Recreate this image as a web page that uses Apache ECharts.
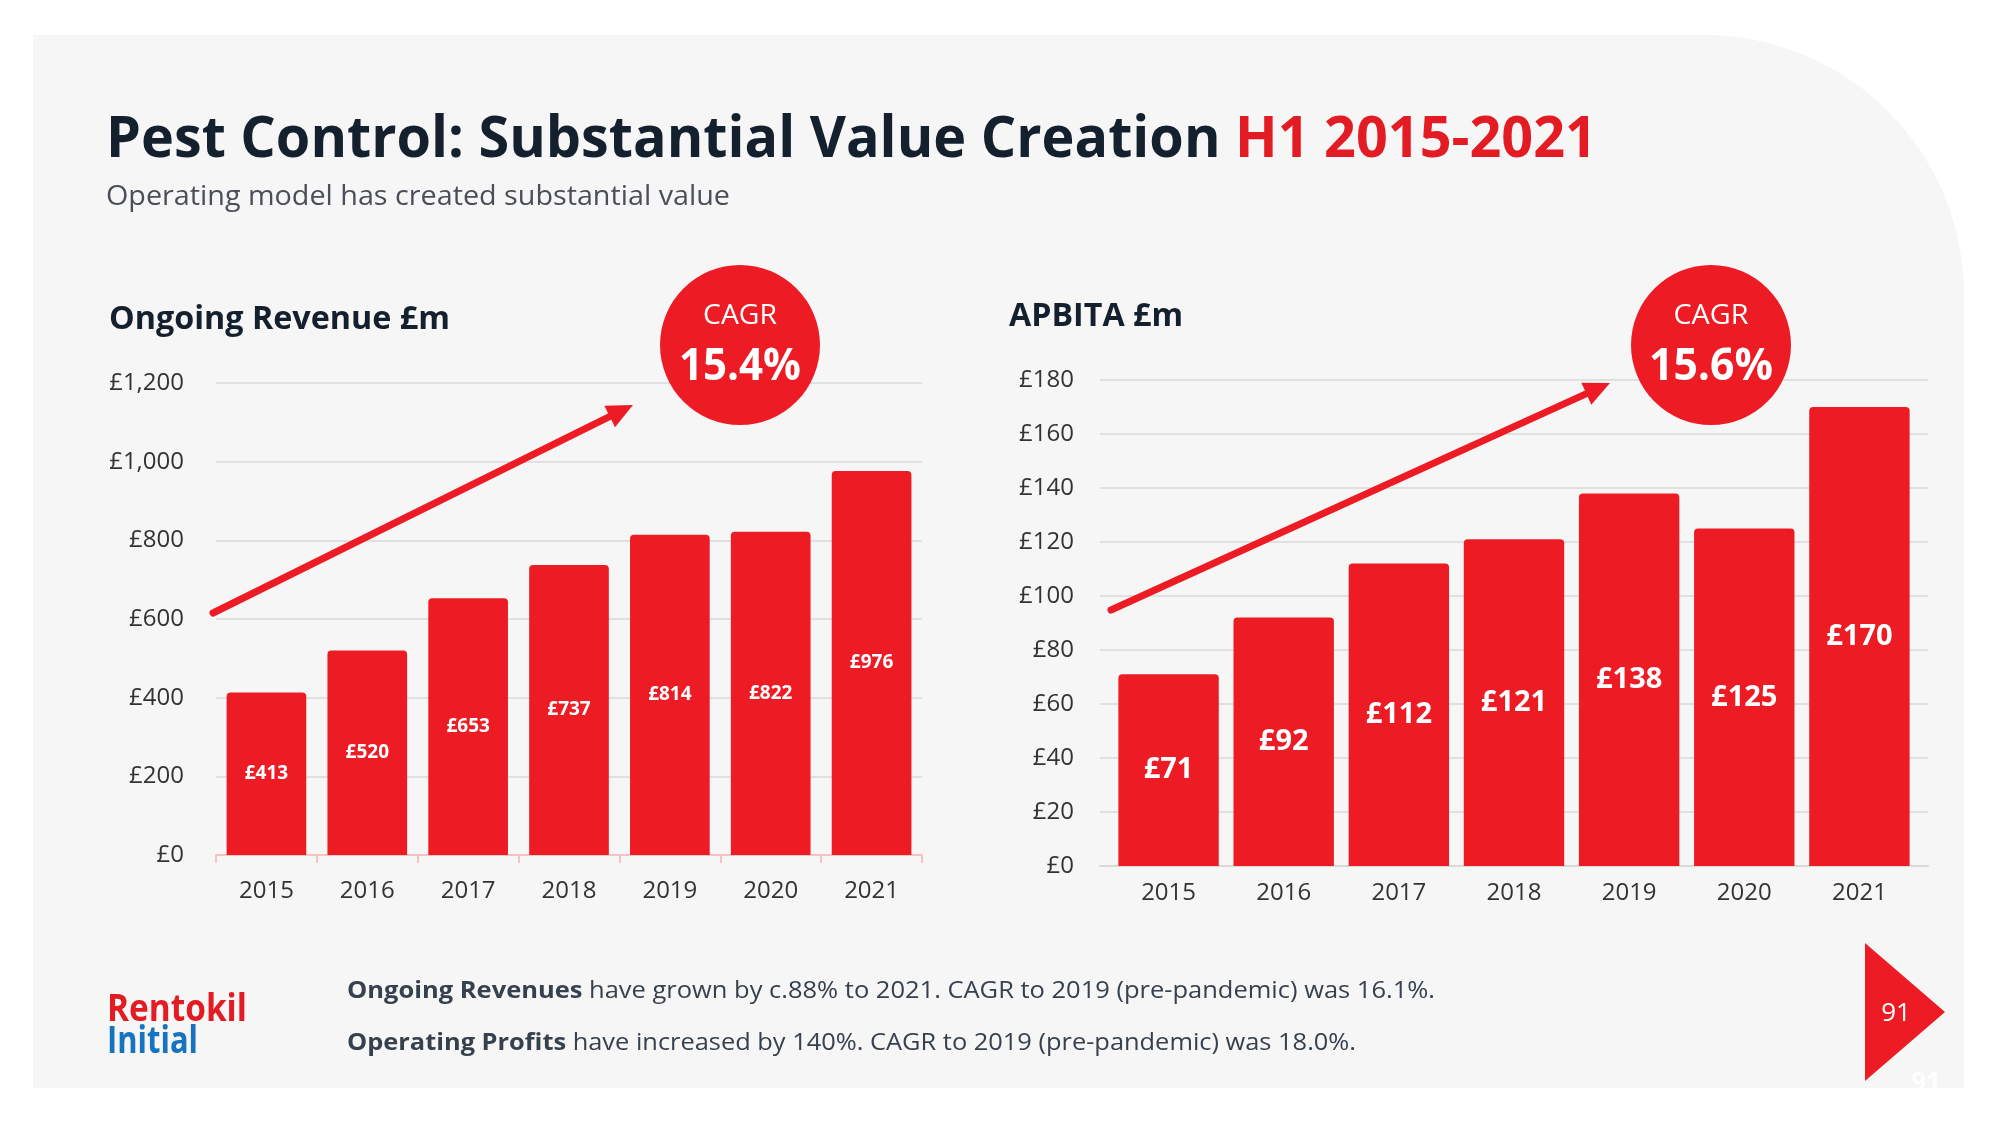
<!DOCTYPE html>
<html><head><meta charset="utf-8">
<script src="https://cdn.jsdelivr.net/npm/echarts@6/dist/echarts.min.js"></script>
<style>html,body{margin:0;padding:0;background:#fff}#c{width:2000px;height:1125px}</style>
</head><body><div id="c"></div>
<script>
// ---- data ----
const categories = ['2015', '2016', '2017', '2018', '2019', '2020', '2021'];
const revenueValues = [413, 520, 653, 737, 814, 822, 976];
const apbitaValues = [71, 92, 112, 121, 138, 125, 170];
const revenueTickLabels = ['£0', '£200', '£400', '£600', '£800', '£1,000', '£1,200'];
const apbitaTickLabels = ['£0', '£20', '£40', '£60', '£80', '£100', '£120', '£140', '£160', '£180'];
const revenueCagr = '15.4%';
const apbitaCagr = '15.6%';
const titleMain = 'Pest Control: Substantial Value Creation ';
const titleAccent = 'H1 2015-2021';
const subtitle = 'Operating model has created substantial value';
const leftTitle = 'Ongoing Revenue £m';
const rightTitle = 'APBITA £m';
const note1Bold = 'Ongoing Revenues';
const note1Rest = ' have grown by c.88% to 2021. CAGR to 2019 (pre-pandemic) was 16.1%.';
const note2Bold = 'Operating Profits';
const note2Rest = ' have increased by 140%. CAGR to 2019 (pre-pandemic) was 18.0%.';
const pageNo = '91';

// ---- styling helpers ----
const FF = '"Open Sans", sans-serif';
const RED = '#ed1c24';
const NAVY = '#14202e';
const mctx = document.createElement('canvas').getContext('2d');
function tw(str, size, weight) {
  mctx.font = (weight || 'normal') + ' ' + size + 'px ' + FF;
  return mctx.measureText(str).width;
}
function txt(x, y, text, size, weight, fill, target, align) {
  const w = tw(text, size, weight);
  return {
    type: 'text', x: x, y: y, scaleX: target ? target / w : 1, z: 100,
    style: {
      text: text, fontSize: size, fontWeight: weight, fontFamily: FF, fill: fill,
      textAlign: align || 'left', textVerticalAlign: 'middle',
      align: align || 'left', verticalAlign: 'middle'
    }
  };
}
function richTxt(x, y, parts, target) {
  let w = 0; const rich = {}; let text = '';
  parts.forEach(function (p, i) {
    w += tw(p.t, p.size, p.weight);
    rich['p' + i] = { fill: p.fill, color: p.fill, fontSize: p.size, fontWeight: p.weight, fontFamily: FF };
    text += '{p' + i + '|' + p.t + '}';
  });
  return {
    type: 'text', x: x, y: y, scaleX: target / w, z: 100,
    style: { text: text, rich: rich, textAlign: 'left', textVerticalAlign: 'middle', align: 'left', verticalAlign: 'middle' }
  };
}
function arrow(x1, y1, x2, y2) {
  const dx = x2 - x1, dy = y2 - y1, L = Math.hypot(dx, dy);
  const ux = dx / L, uy = dy / L, nx = -uy, ny = ux;
  const hl = 26, hw = 12;
  const bx = x2 - ux * hl, by = y2 - uy * hl;
  return [
    { type: 'line', z: 90, shape: { x1: x1, y1: y1, x2: bx + ux * 2, y2: by + uy * 2 },
      style: { stroke: RED, lineWidth: 7, lineCap: 'round' } },
    { type: 'polygon', z: 90, shape: { points: [[x2, y2], [bx + nx * hw, by + ny * hw], [bx - nx * hw, by - ny * hw]] },
      style: { fill: RED } }
  ];
}
function cagr(cx, cy, value, w1, w2) {
  return [
    { type: 'circle', z: 95, shape: { cx: cx, cy: cy, r: 80 }, style: { fill: RED } },
    txt(cx, cy - 29, 'CAGR', 28, 'normal', '#ffffff', w1, 'center'),
    txt(cx, cy + 22, value, 44, 'bold', '#ffffff', w2, 'center')
  ];
}

const graphics = [].concat(
  [{ type: 'rect', z: -10, shape: { x: 33, y: 35, width: 1931, height: 1053, r: [0, 260, 0, 0] }, style: { fill: '#f6f6f6' } }],
  [richTxt(106, 140, [
    { t: titleMain, size: 58, weight: 'bold', fill: NAVY },
    { t: titleAccent, size: 58, weight: 'bold', fill: '#e31b23' }
  ], 1491)],
  [txt(106, 197, subtitle, 28, 'normal', '#4a4f57', 624)],
  [txt(109, 320, leftTitle, 33, 'bold', NAVY, 341)],
  [txt(1009, 317, rightTitle, 33, 'bold', NAVY, 174)],
  arrow(213, 613, 633, 405),
  arrow(1111, 610, 1610, 383),
  cagr(740, 345, revenueCagr, 74, 122),
  cagr(1711, 345, apbitaCagr, 75, 124),
  [richTxt(347, 991, [
    { t: note1Bold, size: 23, weight: 'bold', fill: '#37414d' },
    { t: note1Rest, size: 23, weight: 'normal', fill: '#37414d' }
  ], 1088)],
  [richTxt(347, 1043, [
    { t: note2Bold, size: 23, weight: 'bold', fill: '#37414d' },
    { t: note2Rest, size: 23, weight: 'normal', fill: '#37414d' }
  ], 1009)],
  [txt(107, 1010, 'Rentokil', 37, 'bold', '#e31b23', 140)],
  [txt(107, 1042, 'Initial', 37, 'bold', '#1673c0', 91)],
  [{ type: 'polygon', z: 100, shape: { points: [[1865, 943], [1945, 1012], [1865, 1081]] }, style: { fill: RED } }],
  [txt(1896, 1014, pageNo, 26, 'normal', '#ffffff', 0, 'center')],
  [txt(1926, 1084, pageNo, 26, 'bold', 'rgba(255,255,255,0.9)', 0, 'center')]
);

const chart = echarts.init(document.getElementById('c'), null, { renderer: 'canvas' });
const axisLabelStyle = { color: '#333333', fontSize: 24, fontFamily: FF };
chart.setOption({
  backgroundColor: '#ffffff',
  animation: false,
  grid: [
    { left: 216, right: 2000 - 922, top: 383, bottom: 1125 - 855 },
    { left: 1100, right: 2000 - 1928, top: 380, bottom: 1125 - 866 },
    { left: 1111, right: 2000 - 1917, top: 380, bottom: 1125 - 866 }
  ],
  xAxis: [
    { type: 'category', gridIndex: 0, data: categories,
      axisLine: { show: true, lineStyle: { color: '#f4c3c5', width: 2 } },
      axisTick: { show: true, length: 8, lineStyle: { color: '#f4c3c5', width: 2 } },
      axisLabel: Object.assign({ margin: 24 }, axisLabelStyle) },
    { type: 'category', gridIndex: 1, data: categories,
      axisLine: { show: true, lineStyle: { color: '#d9d9d9', width: 2 } },
      axisTick: { show: false }, axisLabel: { show: false } },
    { type: 'category', gridIndex: 2, data: categories,
      axisLine: { show: false }, axisTick: { show: false },
      axisLabel: Object.assign({ margin: 15 }, axisLabelStyle) }
  ],
  yAxis: [
    { type: 'value', gridIndex: 0, min: 0, max: 1200, interval: 200,
      axisLine: { show: false }, axisTick: { show: false },
      splitLine: { lineStyle: { color: '#d9d9d9', width: 1.5 } },
      axisLabel: Object.assign({ margin: 32, formatter: function (v) { return revenueTickLabels[Math.round(v / 200)]; } }, axisLabelStyle) },
    { type: 'value', gridIndex: 1, min: 0, max: 180, interval: 20,
      axisLine: { show: false }, axisTick: { show: false },
      splitLine: { lineStyle: { color: '#d9d9d9', width: 1.5 } },
      axisLabel: Object.assign({ margin: 26, formatter: function (v) { return apbitaTickLabels[Math.round(v / 20)]; } }, axisLabelStyle) },
    { type: 'value', gridIndex: 2, min: 0, max: 180, interval: 20, show: false,
      splitLine: { show: false } }
  ],
  series: [
    { type: 'bar', xAxisIndex: 0, yAxisIndex: 0, data: revenueValues, barCategoryGap: '21%',
      itemStyle: { color: RED, borderRadius: [4, 4, 0, 0] },
      label: { show: true, position: 'inside', color: '#ffffff', fontSize: 19, fontWeight: 'bold', fontFamily: FF,
        formatter: function (p) { return '£' + p.value; } } },
    { type: 'bar', xAxisIndex: 2, yAxisIndex: 2, data: apbitaValues, barCategoryGap: '12.8%',
      itemStyle: { color: RED, borderRadius: [4, 4, 0, 0] },
      label: { show: true, position: 'inside', color: '#ffffff', fontSize: 29, fontWeight: 'bold', fontFamily: FF,
        formatter: function (p) { return '£' + p.value; } } }
  ],
  graphic: { elements: graphics }
});
</script></body></html>
